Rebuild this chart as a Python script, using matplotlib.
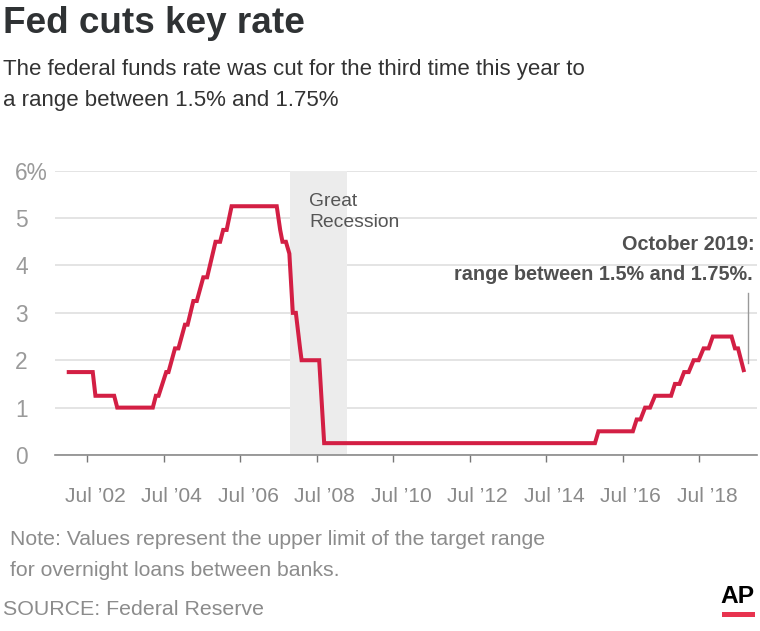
import matplotlib
matplotlib.use('Agg')
import matplotlib.pyplot as plt
from matplotlib import font_manager
from matplotlib.transforms import ScaledTranslation
from matplotlib.patches import Rectangle

# ---------------- data ----------------
year_frac = [2001.97, 2002.65, 2002.72, 2003.21, 2003.29, 2004.22, 2004.30, 2004.37,
             2004.57, 2004.63, 2004.80, 2004.89, 2005.06, 2005.13, 2005.28, 2005.37,
             2005.54, 2005.64, 2005.86, 2005.98, 2006.06, 2006.15, 2006.28, 2007.46,
             2007.55, 2007.61, 2007.70, 2007.79, 2007.88, 2007.96, 2008.07, 2008.11,
             2008.57, 2008.70, 2015.78, 2015.87, 2016.77, 2016.87, 2016.97, 2017.09,
             2017.22, 2017.35, 2017.77, 2017.87, 2017.99, 2018.11, 2018.23, 2018.36,
             2018.49, 2018.62, 2018.75, 2018.86, 2019.35, 2019.44, 2019.52, 2019.68]
rate_pct = [1.75, 1.75, 1.25, 1.25, 1.00, 1.00, 1.25, 1.25,
            1.75, 1.75, 2.25, 2.25, 2.75, 2.75, 3.25, 3.25,
            3.75, 3.75, 4.50, 4.50, 4.75, 4.75, 5.25, 5.25,
            4.75, 4.50, 4.50, 4.25, 3.00, 3.00, 2.25, 2.00,
            2.00, 0.25, 0.25, 0.50, 0.50, 0.75, 0.75, 1.00,
            1.00, 1.25, 1.25, 1.50, 1.50, 1.75, 1.75, 2.00,
            2.00, 2.25, 2.25, 2.50, 2.50, 2.25, 2.25, 1.75]

recession_start = 2007.81
recession_end = 2009.29

x_tick_pos = [2002.5, 2004.5, 2006.5, 2008.5, 2010.5, 2012.5, 2014.5, 2016.5, 2018.5]
x_tick_labels = ["Jul \u201902", "Jul \u201904", "Jul \u201906", "Jul \u201908", "Jul \u201910",
                 "Jul \u201912", "Jul \u201914", "Jul \u201916", "Jul \u201918"]
y_tick_pos = [0, 1, 2, 3, 4, 5, 6]
y_tick_labels = ["0", "1", "2", "3", "4", "5", "6%"]

annot_x = 2019.78
annot_y_top = 3.42
annot_y_bottom = 1.94

title = "Fed cuts key rate"
subtitle = ["The federal funds rate was cut for the third time this year to",
            "a range between 1.5% and 1.75%"]
note = ["Note: Values represent the upper limit of the target range",
        "for overnight loans between banks."]
source = "SOURCE: Federal Reserve"
annot_text = ["October 2019:", "range between 1.5% and 1.75%."]


def pick(*names):
    for n in names:
        try:
            font_manager.findfont(font_manager.FontProperties(family=n),
                                  fallback_to_default=False)
            return n
        except Exception:
            pass
    return 'DejaVu Sans'


NARROW = pick('Liberation Sans Narrow', 'Arial Narrow', 'Liberation Sans')
SANS = pick('Liberation Sans', 'Arial', 'DejaVu Sans')
# scale factor: the narrow face is already condensed, the regular one needs smaller sizes
K = 1.0 if 'Narrow' in NARROW else 0.84

W, H = 760, 631
fig = plt.figure(figsize=(W / 100, H / 100), dpi=100)
fig.patch.set_facecolor('white')


def fx(px):
    return px / W


def fy(py):
    return 1 - py / H


ax = fig.add_axes([fx(55), fy(455), fx(757) - fx(55), fy(170.7) - fy(455)])
ax.set_xlim(2001.663, 2020.016)
ax.set_ylim(0, 6)

ax.axvspan(recession_start, recession_end, color='#ececec', lw=0, zorder=1)
ax.plot(year_frac, rate_pct, color='#d31f44', lw=2.9, solid_joinstyle='miter',
        solid_capstyle='butt', zorder=3, clip_on=False)

ax.set_yticks(y_tick_pos)
ax.set_yticklabels(y_tick_labels, ha='left', fontfamily=NARROW, fontsize=19.5 * K,
                   color='#9a9a9a')
ax.tick_params(axis='y', length=0, pad=28.8)
ax.yaxis.grid(True, color='#e2e2e2', lw=1.3, zorder=0.5)
ax.set_axisbelow(True)

ax.set_xticks(x_tick_pos)
ax.set_xticklabels(x_tick_labels, fontfamily=NARROW, fontsize=18 * K, color='#8a8a8a')
ax.tick_params(axis='x', length=5, width=1, color='#777777', pad=18)
off = ScaledTranslation(8 / 100, 0, fig.dpi_scale_trans)
for lab in ax.get_xticklabels():
    lab.set_transform(lab.get_transform() + off)

for s in ['top', 'right', 'left']:
    ax.spines[s].set_visible(False)
ax.spines['bottom'].set_color('#8a8a8a')
ax.spines['bottom'].set_linewidth(1.2)
ax.spines['bottom'].set_zorder(4)

ax.text(recession_start + 0.5, 5.52, "Great\nRecession", fontfamily=NARROW,
        fontsize=16.5 * K, color='#555555', va='top', ha='left', linespacing=1.25, zorder=4)

ax.plot([annot_x, annot_x], [annot_y_bottom, annot_y_top], color='#999999', lw=1.0,
        zorder=2, clip_on=False)
fig.text(fx(755), fy(250), annot_text[0], fontfamily=NARROW, fontweight='bold',
         fontsize=17.0 * K, color='#505050', ha='right', va='baseline')
fig.text(fx(753), fy(280), annot_text[1], fontfamily=NARROW, fontweight='bold',
         fontsize=17.0 * K, color='#505050', ha='right', va='baseline')

fig.text(fx(3), fy(33), title, fontfamily=SANS, fontweight='bold', fontsize=26.6,
         color='#2f3234', ha='left', va='baseline')
fig.text(fx(3), fy(75), subtitle[0], fontfamily=NARROW, fontsize=19.1 * K, color='#333333',
         ha='left', va='baseline')
fig.text(fx(3), fy(106), subtitle[1], fontfamily=NARROW, fontsize=19.1 * K, color='#333333',
         ha='left', va='baseline')

fig.text(fx(10), fy(545), note[0], fontfamily=NARROW, fontsize=18.2 * K, color='#8c8c8c',
         ha='left', va='baseline')
fig.text(fx(10), fy(576), note[1], fontfamily=NARROW, fontsize=18.2 * K, color='#8c8c8c',
         ha='left', va='baseline')
fig.text(fx(3), fy(615), source, fontfamily=NARROW, fontsize=18.3 * K, color='#8c8c8c',
         ha='left', va='baseline')

fig.text(fx(755), fy(603), "AP", fontfamily=NARROW, fontweight='bold', fontsize=21 * K,
         color='#000000', ha='right', va='baseline')
fig.patches.append(Rectangle((fx(722), fy(617)), fx(755) - fx(722), fy(612) - fy(617),
                             transform=fig.transFigure, color='#e8334f', lw=0))

fig.savefig('out.png', dpi=100, facecolor='white')
